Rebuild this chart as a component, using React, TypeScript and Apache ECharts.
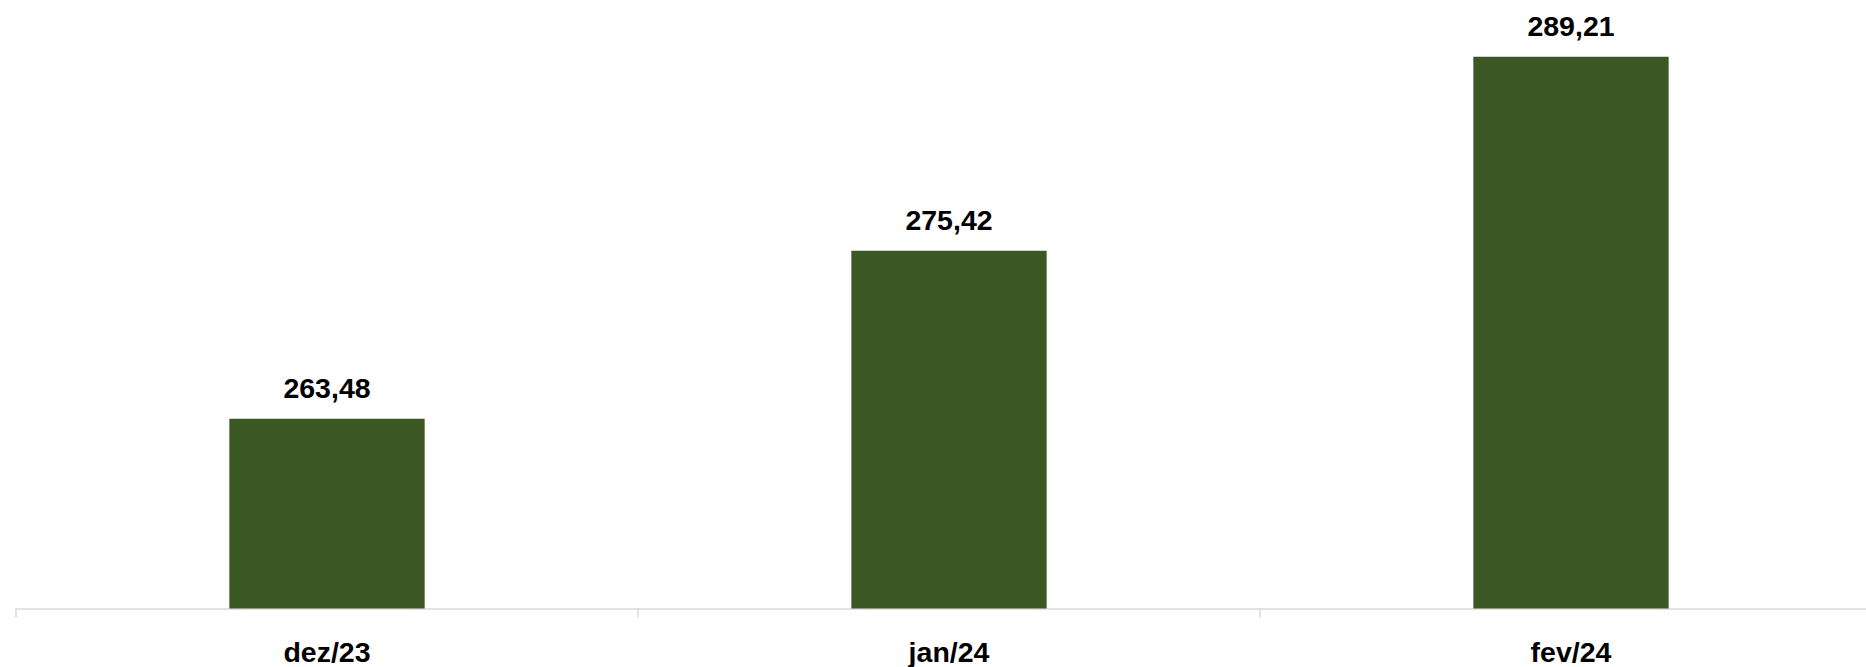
import React, { useEffect, useRef } from "react";
import * as echarts from "echarts";

const categories = ["dez/23", "jan/24", "fev/24"];
const values = [263.48, 275.42, 289.21];

const BAR_COLOR = "#3A5724";
const FONT = "'Liberation Sans', Arial, sans-serif";

export default function App() {
  const ref = useRef<HTMLDivElement>(null);

  useEffect(() => {
    if (!ref.current) return;
    const chart = echarts.init(ref.current, undefined, { renderer: "svg" });
    chart.setOption({
      animation: false,
      backgroundColor: "#ffffff",
      grid: { left: 16, right: 34, top: 0, bottom: 58.5, containLabel: false },
      xAxis: {
        type: "category",
        data: categories,
        boundaryGap: true,
        axisLine: { show: true, lineStyle: { color: "#d9d9d9", width: 1.5 } },
        axisTick: { show: true, length: 9, lineStyle: { color: "#d9d9d9", width: 1.5 } },
        axisLabel: {
          margin: 29,
          color: "#000000",
          fontFamily: FONT,
          fontWeight: "bold",
          fontSize: 28.5,
        },
        splitLine: { show: false },
      },
      yAxis: {
        type: "value",
        min: 250,
        max: 293.25,
        show: false,
        splitLine: { show: false },
      },
      series: [
        {
          type: "bar",
          data: values,
          barWidth: "31.4%",
          itemStyle: { color: BAR_COLOR },
          label: {
            show: true,
            position: "top",
            distance: 16,
            color: "#000000",
            fontFamily: FONT,
            fontWeight: "bold",
            fontSize: 28.5,
            formatter: (p: any) => Number(p.value).toFixed(2).replace(".", ","),
          },
        },
      ],
    });
    return () => chart.dispose();
  }, []);

  return (
    <div
      style={{
        position: "absolute",
        left: 0,
        top: 0,
        width: 1866,
        height: 667,
        overflow: "hidden",
        background: "#ffffff",
      }}
    >
      <div ref={ref} style={{ width: 1916, height: 667 }} />
    </div>
  );
}
